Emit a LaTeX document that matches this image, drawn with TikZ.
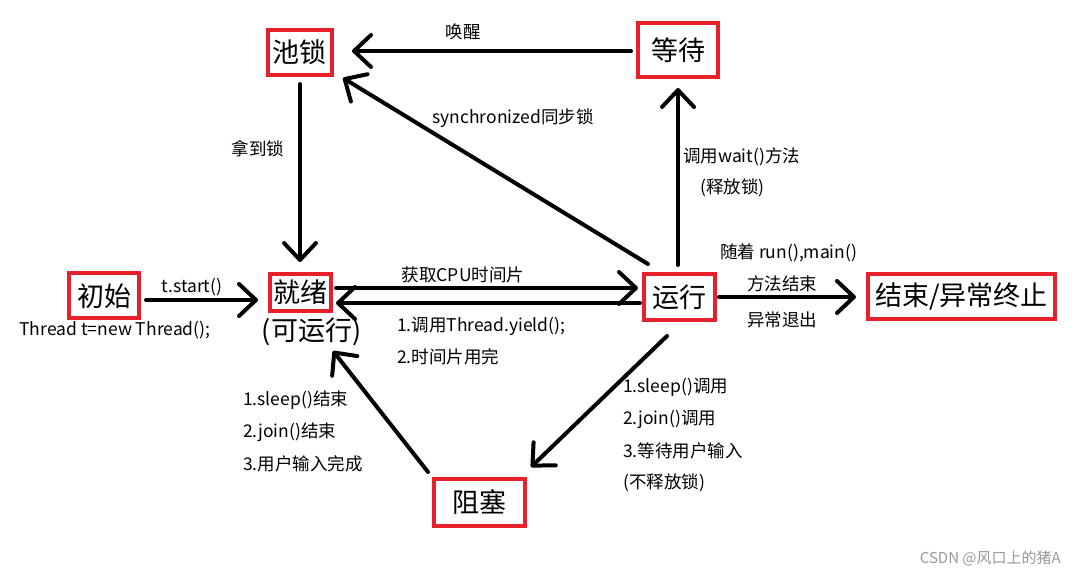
\documentclass[tikz,border=0pt]{standalone}
\usepackage{fontspec}
\setmainfont{Noto Sans CJK SC}
\usetikzlibrary{arrows.meta,calc}
\definecolor{boxred}{HTML}{E8202A}
\tikzset{
  state/.style={draw=boxred,line width=4pt,inner sep=0pt,font=\fontsize{27}{30}\selectfont,text=black},
  lbl/.style={inner sep=0pt,font=\fontsize{17.5}{20}\selectfont,text=black},
  conn/.style={line width=4pt,line cap=round,-{Straight Barb[length=17pt,width=32pt,line cap=round,line join=round]}}
}
\begin{document}
\begin{tikzpicture}[x=1pt,y=-1pt]
\fill[white] (0,0) rectangle (1077,577);
\useasboundingbox (0,0) rectangle (1077,577);
% states
\node[state,minimum width=70pt,minimum height=45pt] (cs) at (104,296) {初始};
\node[state,minimum width=61pt,minimum height=37pt] (jx) at (300.5,292.5) {就绪};
\node[inner sep=0pt,font=\fontsize{27}{30}\selectfont] (kyx) at (311.5,332) {(可运行)};
\node[state,minimum width=64pt,minimum height=45pt] (cl) at (299.5,52.5) {池锁};
\node[state,minimum width=80pt,minimum height=54pt] (dd) at (678,50) {等待};
\node[state,minimum width=71pt,minimum height=46pt] (yx) at (679.5,297) {运行};
\node[state,minimum width=187pt,minimum height=45pt] (js) at (961.5,296.5) {结束/异常终止};
\node[state,minimum width=91pt,minimum height=47pt] (zs) at (479.5,502.5) {阻塞};
% connectors
\draw[conn] ($(cs.east)+(5,4)$) -- ($(jx.west)+(-10,7.5)$);
\draw[conn] ($(jx.east)+(3,-4.5)$) -- ($(yx.west)+(-4,-9)$);
\draw[conn] ($(yx.west)+(-2,6)$) -- ($(jx.east)+(3,10.5)$);
\draw[conn] ($(cl.south)+(0.5,7)$) -- ($(jx.north)+(-0.5,-10)$);
\draw[conn] ($(dd.west)+(-5,1)$) -- ($(cl.east)+(18.5,-1.5)$);
\draw[conn] ($(yx.north west)+(6,-8)$) -- ($(cl.south east)+(9.5,1)$);
\draw[conn] ($(yx.north)+(-1.5,-7)$) -- ($(dd.south)+(0,9)$);
\draw[conn] ($(yx.east)+(2,0)$) -- ($(js.west)+(-10,0.5)$);
\draw[conn] ($(yx.south)+(-12.5,14)$) -- ($(zs.north east)+(4,-10)$);
\draw[conn] ($(zs.north west)+(-4,-5)$) -- ($(jx.south east)+(0,38)$);
% labels
\node[lbl] (l1) at (192,287) {t.start()};
\node[lbl] (l2) at (115,330) {Thread t=new Thread();};
\node[lbl] (l3) at (463,275) {获取CPU时间片};
\node[lbl,anchor=west] (l4) at (397,326) {1.调用Thread.yield();};
\node[lbl,anchor=west] (l5) at (397,357) {2.时间片用完};
\node[lbl] (l6) at (258,149) {拿到锁};
\node[lbl] (l7) at (463,32) {唤醒};
\node[lbl] (l8) at (513,118) {synchronized同步锁};
\node[lbl,anchor=west] (l9) at (683,157) {调用wait()方法};
\node[lbl,anchor=west] (l10) at (700,188) {(释放锁)};
\node[lbl,anchor=west] (l11) at (720,253) {随着 run(),main()};
\node[lbl] (l12) at (782,284) {方法结束};
\node[lbl] (l13) at (782,320) {异常退出};
\node[lbl,anchor=west] (l14) at (623,387) {1.sleep()调用};
\node[lbl,anchor=west] (l15) at (623,419) {2.join()调用};
\node[lbl,anchor=west] (l16) at (623,451) {3.等待用户输入};
\node[lbl,anchor=west] (l17) at (623,483) {(不释放锁)};
\node[lbl,anchor=west] (l18) at (243,400) {1.sleep()结束};
\node[lbl,anchor=west] (l19) at (243,432) {2.join()结束};
\node[lbl,anchor=west] (l20) at (243,464) {3.用户输入完成};
\node[inner sep=0pt,anchor=east,font=\fontsize{15}{18}\selectfont,text=black!40] (wm) at (1061,558) {CSDN @风口上的猪A};
\end{tikzpicture}
\end{document}
